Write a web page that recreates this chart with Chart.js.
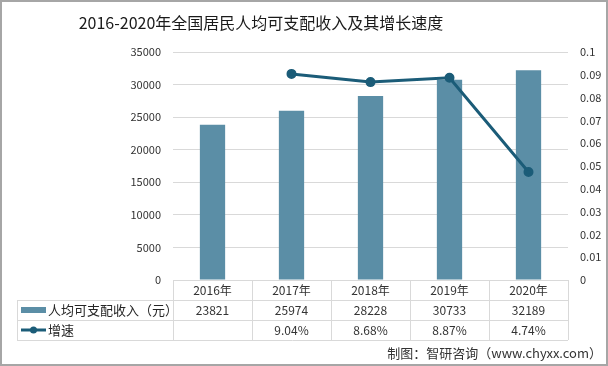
<!DOCTYPE html>
<html>
<head>
<meta charset="utf-8">
<script src="https://cdn.jsdelivr.net/npm/chart.js@4"></script>
<style>
  html, body { margin: 0; padding: 0; background: #fff; }
  #wrap { width: 608px; height: 366px; }
</style>
</head>
<body>
<div id="wrap"><canvas id="incomeChart" width="608" height="366"></canvas></div>
<script>
const years = ['2016年', '2017年', '2018年', '2019年', '2020年'];
const income = [23821, 25974, 28228, 30733, 32189];
const growth = [null, 0.0904, 0.0868, 0.0887, 0.0474];
const growthText = ['', '9.04%', '8.68%', '8.87%', '4.74%'];
const leftTicks = [0, 5000, 10000, 15000, 20000, 25000, 30000, 35000];
const rightTicks = [0, 0.01, 0.02, 0.03, 0.04, 0.05, 0.06, 0.07, 0.08, 0.09, 0.1];

const barColor = '#5b8ea6';
const lineColor = '#1b5c78';
const gridColor = '#d9d9d9';
const fontFamily = '"Noto Sans CJK SC", "Noto Sans", sans-serif';

// title, data table under the plot, source note and frame
const tablePlugin = {
    id: 'tablePlugin',
    afterDraw(chart) {
        const ctx = chart.ctx;
        const area = chart.chartArea;
        const xs = chart.scales.x;
        const cw = (area.right - area.left) / years.length;
        const top = area.bottom;
        const rowH = 20;
        const tableLeft = 17;

        ctx.save();
        ctx.strokeStyle = gridColor;
        ctx.lineWidth = 1;
        ctx.beginPath();
        // horizontal rules
        ctx.moveTo(area.left, top + 0.5); ctx.lineTo(area.right, top + 0.5);
        for (let r = 1; r <= 3; r++) {
            const y = Math.round(top + r * rowH) + 0.5;
            ctx.moveTo(tableLeft, y); ctx.lineTo(area.right, y);
        }
        // vertical rules
        for (let i = 0; i <= years.length; i++) {
            const x = Math.round(area.left + i * cw) + 0.5;
            ctx.moveTo(x, top); ctx.lineTo(x, top + 3 * rowH);
        }
        ctx.moveTo(tableLeft + 0.5, top + rowH); ctx.lineTo(tableLeft + 0.5, top + 3 * rowH);
        ctx.stroke();

        ctx.fillStyle = '#333333';
        ctx.font = '12px ' + fontFamily;
        ctx.textAlign = 'center';
        ctx.textBaseline = 'middle';
        years.forEach((y, i) => {
            const cx = xs.getPixelForValue(i);
            ctx.fillText(y, cx, top + rowH * 0.5);
            ctx.fillText(String(income[i]), cx, top + rowH * 1.5);
            ctx.fillText(growthText[i], cx, top + rowH * 2.5);
        });

        // legend keys in the first column
        ctx.fillStyle = barColor;
        ctx.fillRect(21, top + rowH * 1.5 - 3, 25, 6);
        ctx.strokeStyle = lineColor;
        ctx.lineWidth = 3;
        ctx.beginPath();
        ctx.moveTo(21, top + rowH * 2.5); ctx.lineTo(46, top + rowH * 2.5);
        ctx.stroke();
        ctx.fillStyle = lineColor;
        ctx.beginPath();
        ctx.arc(33.5, top + rowH * 2.5, 3.5, 0, Math.PI * 2);
        ctx.fill();

        ctx.fillStyle = '#262626';
        ctx.textAlign = 'left';
        ctx.font = '13px ' + fontFamily;
        ctx.fillText('人均可支配收入（元）', 48, top + rowH * 1.5);
        ctx.fillText('增速', 48, top + rowH * 2.5);

        // title
        ctx.fillStyle = '#1a1a1a';
        ctx.textAlign = 'center';
        ctx.font = '16px ' + fontFamily;
        ctx.fillText('2016-2020年全国居民人均可支配收入及其增长速度', 261, 23);

        // source
        ctx.textAlign = 'right';
        ctx.font = '13px ' + fontFamily;
        ctx.fillStyle = '#333333';
        ctx.fillText('制图：智研咨询（www.chyxx.com）', 602, 353);

        // outer frame
        ctx.strokeStyle = '#a6a6a6';
        ctx.lineWidth = 2;
        ctx.strokeRect(1, 1, 606, 364);
        ctx.restore();
    }
};

const config = {
    data: {
        labels: years,
        datasets: [{
            type: 'line',
            label: '增速',
            data: growth,
            yAxisID: 'y1',
            borderColor: lineColor,
            backgroundColor: lineColor,
            borderWidth: 3,
            pointRadius: 3.5,
            pointHoverRadius: 3.5,
            pointBackgroundColor: lineColor,
            tension: 0,
            order: 0
        }, {
            type: 'bar',
            label: '人均可支配收入（元）',
            data: income,
            yAxisID: 'y',
            backgroundColor: barColor,
            categoryPercentage: 1,
            barPercentage: 0.32,
            order: 1
        }]
    },
    options: {
        responsive: false,
        animation: false,
        layout: {
            padding: { top: 52, bottom: 86, left: 0, right: 0 }
        },
        plugins: {
            legend: { display: false },
            title: { display: false },
            tooltip: { enabled: false }
        },
        scales: {
            x: {
                display: false,
                offset: true
            },
            y: {
                position: 'left',
                min: 0,
                max: 35000,
                afterFit: scale => { scale.width = 173; },
                afterBuildTicks: scale => { scale.ticks = leftTicks.map(v => ({ value: v })); },
                border: { display: false },
                grid: { color: gridColor, drawTicks: false },
                ticks: {
                    padding: 12,
                    color: '#333333',
                    font: { family: fontFamily, size: 11 },
                    callback: v => String(v)
                }
            },
            y1: {
                position: 'right',
                min: 0,
                max: 0.1,
                afterFit: scale => { scale.width = 40; },
                afterBuildTicks: scale => { scale.ticks = rightTicks.map(v => ({ value: v })); },
                border: { display: false },
                grid: { display: false, drawTicks: false },
                ticks: {
                    padding: 12,
                    color: '#333333',
                    font: { family: fontFamily, size: 11 },
                    callback: v => String(+v.toFixed(2))
                }
            }
        }
    },
    plugins: [tablePlugin]
};

const incomeChart = new Chart(document.getElementById('incomeChart'), config);
</script>
</body>
</html>
